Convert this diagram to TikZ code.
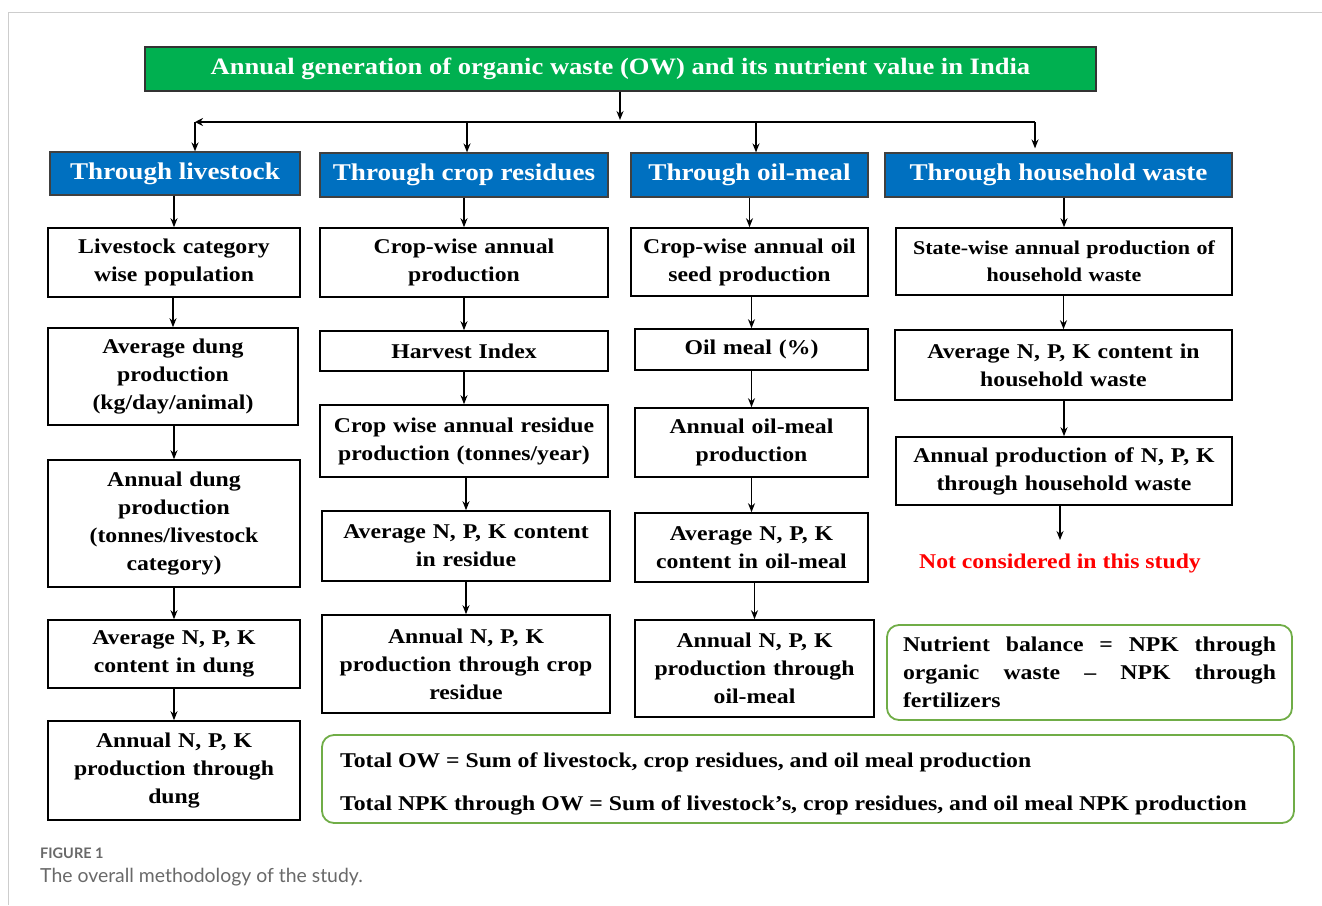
\documentclass[tikz,border=0pt]{standalone}
\usepackage{fontspec}
\setmainfont[FakeStretch=1.13]{Liberation Serif}
\newfontfamily\capfont{Lato}
\usetikzlibrary{arrows.meta}
\definecolor{hdrgreen}{RGB}{0,176,80}
\definecolor{tblue}{RGB}{0,112,192}
\definecolor{lgreen}{RGB}{112,173,71}
\definecolor{capgray}{RGB}{105,105,105}
\definecolor{framegray}{RGB}{205,205,205}
\begin{document}
\begin{tikzpicture}[x=1pt,y=-1pt,
  wbox/.style={draw=black, line width=1.6pt, fill=white, align=center, inner sep=2pt,
    font=\fontsize{21}{28}\selectfont\bfseries},
  bbox/.style={draw=black!75, line width=1.2pt, fill=tblue, text=white, inner sep=0pt,
    font=\fontsize{24}{28}\selectfont\bfseries},
  gbox/.style={draw=lgreen, line width=1.8pt, rounded corners=12pt, fill=white, inner sep=0pt,
    font=\fontsize{21}{28}\selectfont\bfseries},
  arr/.style={-{Stealth[length=9pt,width=7pt]}, line width=1.6pt},
]
\useasboundingbox (0,0) rectangle (1322,905);
% frame
\draw[framegray, line width=1pt] (8,905) -- (8,12) -- (1322,12);

% header
\node[draw=black!80, line width=1.4pt, fill=hdrgreen, text=white, minimum width=951pt, minimum height=44pt,
  font=\fontsize{23.5}{28}\selectfont\bfseries] (hdr) at (620.5,69) {Annual generation of organic waste (OW) and its nutrient value in India};

% blue boxes
\node[bbox, minimum width=250pt, minimum height=43pt] (b1) at (175,173.5) {Through livestock};
\node[bbox, minimum width=288pt, minimum height=44pt] (b2) at (464,175) {Through crop residues};
\node[bbox, minimum width=237pt, minimum height=44pt] (b3) at (749.5,175) {Through oil-meal};
\node[bbox, minimum width=347pt, minimum height=44pt] (b4) at (1058.5,175) {Through household waste};

% junction
\coordinate (jm) at (620,120);
\coordinate (jL) at (195,122);
\coordinate (jR) at (1035,122);
\coordinate (j2) at (467,122);
\coordinate (j3) at (756,122);
\draw[arr] (hdr.south -| jm) -- (jm);
\draw[line width=2.6pt, -{Stealth[length=8pt,width=8pt]}] (jR) -- (jL);
\draw[arr] (jL) -- (jL |- b1.north);
\draw[arr] (j2) -- (j2 |- b2.north);
\draw[arr] (j3) -- (j3 |- b3.north);
\draw[arr] (jR) -- ([yshift=4pt]jR |- b4.north);

% column 1
\node[wbox, minimum width=252pt, minimum height=69pt, text width=240pt] (l1) at (174,262.5) {Livestock category\\wise population};
\node[wbox, minimum width=250pt, minimum height=97pt, text width=240pt] (l2) at (173,376.5) {Average dung\\production\\(kg/day/animal)};
\node[wbox, minimum width=252pt, minimum height=127pt, text width=240pt] (l3) at (174,523.5) {Annual dung\\production\\(tonnes/livestock\\category)};
\node[wbox, minimum width=252pt, minimum height=68pt, text width=240pt] (l4) at (174,654) {Average N, P, K\\content in dung};
\node[wbox, minimum width=252pt, minimum height=99pt, text width=240pt] (l5) at (174,770.5) {Annual N, P, K\\production through\\dung};

% column 2
\node[wbox, minimum width=288pt, minimum height=69pt, text width=276pt] (c1) at (464,262.5) {Crop-wise annual\\production};
\node[wbox, minimum width=288pt, minimum height=40pt, text width=276pt] (c2) at (464,351) {Harvest Index};
\node[wbox, minimum width=288pt, minimum height=72pt, text width=276pt] (c3) at (464,441) {Crop wise annual residue\\production (tonnes/year)};
\node[wbox, minimum width=288pt, minimum height=70pt, text width=276pt] (c4) at (466,546) {Average N, P, K content\\in residue};
\node[wbox, minimum width=288pt, minimum height=98pt, text width=276pt] (c5) at (466,664) {Annual N, P, K\\production through crop\\residue};

% column 3
\node[wbox, minimum width=237pt, minimum height=68pt, text width=228pt] (o1) at (749.5,262) {Crop-wise annual oil\\seed production};
\node[wbox, minimum width=233pt, minimum height=41pt, text width=224pt] (o2) at (751.5,349.5) {Oil meal (\%)};
\node[wbox, minimum width=233pt, minimum height=69pt, text width=224pt] (o3) at (751.5,442.5) {Annual oil-meal\\production};
\node[wbox, minimum width=233pt, minimum height=69pt, text width=224pt] (o4) at (751.5,547.5) {Average N, P, K\\content in oil-meal};
\node[wbox, minimum width=239pt, minimum height=97pt, text width=228pt] (o5) at (754.5,668.5) {Annual N, P, K\\production through\\oil-meal};

% column 4
\node[wbox, minimum width=336pt, minimum height=67pt, text width=326pt, font=\fontsize{19.5}{27}\selectfont\bfseries] (h1) at (1064,261.5) {State-wise annual production of\\household waste};
\node[wbox, minimum width=337pt, minimum height=70pt, text width=326pt] (h2) at (1063.5,365) {Average N, P, K content in\\household waste};
\node[wbox, minimum width=336pt, minimum height=68pt, text width=326pt] (h3) at (1064,471) {Annual production of N, P, K\\through household waste};
\coordinate (hend) at (1060,540);
\node[text=red, font=\fontsize{21}{28}\selectfont\bfseries, inner sep=0pt] (nc) at (1060,563) {Not considered in this study};

% column arrows
\foreach \a/\b in {b1/l1,l1/l2,l2/l3,l3/l4,l4/l5,b2/c1,c1/c2,c2/c3,c3/c4,c4/c5,b3/o1,o1/o2,o2/o3,o3/o4,o4/o5,b4/h1,h1/h2,h2/h3}
  \draw[arr] (\a.south -| \b.north) -- (\b.north);
\draw[arr] (h3.south -| hend) -- (hend);

% green boxes
\node[gbox, minimum width=405pt, minimum height=95pt] (nb) at (1089.5,672.5) {};
\node[font=\fontsize{21}{28}\selectfont\bfseries, text width=373pt, align=justify, inner sep=0pt] (nbt) at (nb.center) {\hyphenpenalty=10000 Nutrient balance = NPK through\linebreak organic waste -- NPK through\linebreak fertilizers};
\node[gbox, minimum width=972pt, minimum height=88pt] (tot) at (808,779) {};
\node[font=\fontsize{21}{28}\selectfont\bfseries, anchor=base west, inner sep=0pt] (t1) at (340,767) {Total OW = Sum of livestock, crop residues, and oil meal production};
\node[font=\fontsize{21}{28}\selectfont\bfseries, anchor=base west, inner sep=0pt] (t2) at (340,810) {Total NPK through OW = Sum of livestock's, crop residues, and oil meal NPK production};

% caption
\node[anchor=base west, inner sep=0pt, text=capgray, font=\capfont\bfseries\fontsize{14.5}{16}\selectfont] (figl) at (40,858) {FIGURE 1};
\node[anchor=base west, inner sep=0pt, text=capgray, font=\capfont\fontsize{19.4}{22}\selectfont] (figc) at (40,882.5) {The overall methodology of the study.};
\end{tikzpicture}
\end{document}
